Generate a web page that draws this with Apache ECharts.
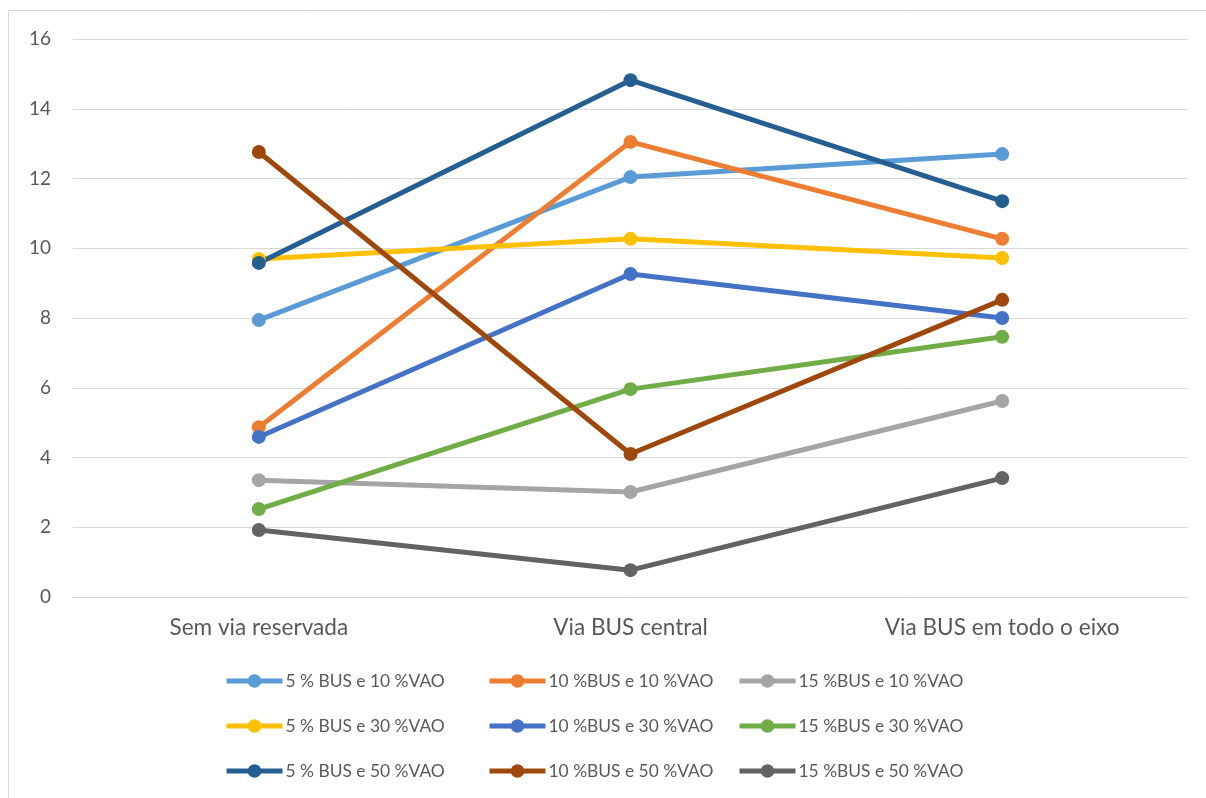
<!DOCTYPE html>
<html>
<head>
<meta charset="utf-8">
<script src="https://cdn.jsdelivr.net/npm/echarts@6/dist/echarts.min.js"></script>
<style>
  html, body { margin: 0; padding: 0; background: #ffffff; }
  #chart { width: 1206px; height: 798px; }
</style>
</head>
<body>
<div id="chart"></div>
<script>
// Scenario categories along the x axis
const categories = ['Sem via reservada', 'Via BUS central', 'Via BUS em todo o eixo'];

// Series names
const seriesNames = [
  '5 % BUS e 10 %VAO', '10 %BUS e 10 %VAO', '15 %BUS e 10 %VAO',
  '5 % BUS e 30 %VAO', '10 %BUS e 30 %VAO', '15 %BUS e 30 %VAO',
  '5 % BUS e 50 %VAO', '10 %BUS e 50 %VAO', '15 %BUS e 50 %VAO'
];

// Values per series
const bus5vao10  = [7.94, 12.04, 12.70];
const bus10vao10 = [4.87, 13.05, 10.27];
const bus15vao10 = [3.35, 3.01, 5.62];
const bus5vao30  = [9.69, 10.27, 9.72];
const bus10vao30 = [4.59, 9.26, 8.00];
const bus15vao30 = [2.52, 5.96, 7.46];
const bus5vao50  = [9.58, 14.82, 11.35];
const bus10vao50 = [12.76, 4.10, 8.52];
const bus15vao50 = [1.92, 0.77, 3.41];

const seriesValues = [
  bus5vao10, bus10vao10, bus15vao10,
  bus5vao30, bus10vao30, bus15vao30,
  bus5vao50, bus10vao50, bus15vao50
];

const colors = [
  '#5B9BD5', '#ED7D31', '#A5A5A5',
  '#FFC000', '#4472C4', '#70AD47',
  '#255E91', '#9E480E', '#636363'
];

// Y axis ticks
const yMin = 0, yMax = 16, yStep = 2;

const fontFamily = 'Lato, "Open Sans", sans-serif';
const textColor = '#595959';

const chart = echarts.init(document.getElementById('chart'), null, { renderer: 'canvas' });

// Legend: three columns, each column listing one BUS share
function legendColumn(names, left) {
  return {
    orient: 'vertical',
    left: left,
    top: 671,
    padding: 0,
    itemWidth: 56,
    itemHeight: 17,
    itemGap: 25,
    data: names,
    lineStyle: { width: 5 },
    textStyle: { fontFamily: fontFamily, fontSize: 17.4, color: textColor, lineHeight: 20, padding: [0, 0, 0, -2] },
    selectedMode: false
  };
}

const option = {
  backgroundColor: '#ffffff',
  animation: false,
  color: colors,
  graphic: [{
    type: 'rect',
    shape: { x: 8.5, y: 10.5, width: 1300, height: 900 },
    style: { fill: 'none', stroke: '#d9d9d9', lineWidth: 1 },
    silent: true
  }],
  grid: { left: 73, right: 18, top: 39, bottom: 201, containLabel: false },
  xAxis: {
    type: 'category',
    data: categories,
    boundaryGap: true,
    axisLine: { show: true, lineStyle: { color: '#d9d9d9', width: 1 } },
    axisTick: { show: false },
    axisLabel: { color: textColor, fontFamily: fontFamily, fontSize: 22.6, margin: 19 },
    splitLine: { show: false }
  },
  yAxis: {
    type: 'value',
    min: yMin,
    max: yMax,
    interval: yStep,
    axisLine: { show: false },
    axisTick: { show: false },
    axisLabel: { color: textColor, fontFamily: fontFamily, fontSize: 19, margin: 22 },
    splitLine: { show: true, lineStyle: { color: '#d9d9d9', width: 1 } }
  },
  legend: [
    legendColumn([seriesNames[0], seriesNames[3], seriesNames[6]], 224),
    legendColumn([seriesNames[1], seriesNames[4], seriesNames[7]], 487),
    legendColumn([seriesNames[2], seriesNames[5], seriesNames[8]], 737)
  ],
  series: seriesNames.map((name, i) => ({
    name: name,
    type: 'line',
    data: seriesValues[i],
    symbol: 'circle',
    symbolSize: 14,
    lineStyle: { width: 5, color: colors[i] },
    itemStyle: { color: colors[i] },
    emphasis: { disabled: true }
  }))
};

chart.setOption(option);
</script>
</body>
</html>
